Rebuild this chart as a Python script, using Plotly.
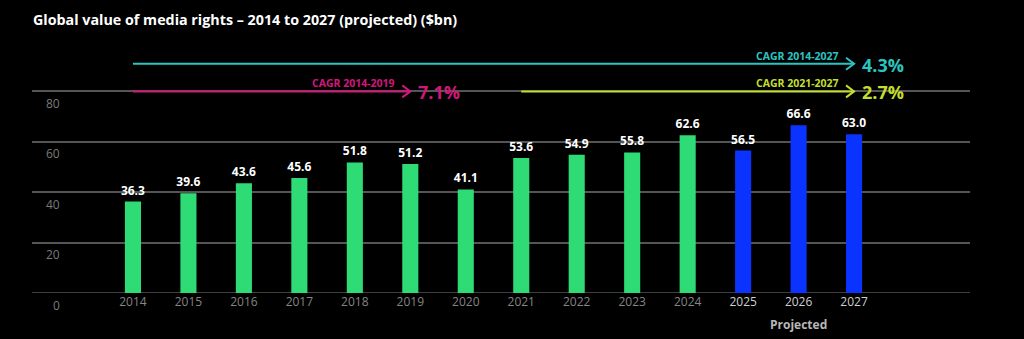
import plotly.graph_objects as go

# Global media rights value, $bn
years = ["2014", "2015", "2016", "2017", "2018", "2019", "2020",
         "2021", "2022", "2023", "2024", "2025", "2026", "2027"]
values = [36.3, 39.6, 43.6, 45.6, 51.8, 51.2, 41.1,
          53.6, 54.9, 55.8, 62.6, 56.5, 66.6, 63.0]
projected = [False] * 11 + [True] * 3

y_ticks = [0, 20, 40, 60, 80]

# CAGR brackets: (start year, end year, level on the value axis, label, rate, colour)
cagr_start = ["2014", "2014", "2021"]
cagr_end = ["2027", "2019", "2027"]
cagr_level = [91, 80, 80]
cagr_label = ["CAGR 2014-2027", "CAGR 2014-2019", "CAGR 2021-2027"]
cagr_rate = ["4.3%", "7.1%", "2.7%"]
cagr_color = ["#2cc4c0", "#d0177a", "#c2df2b"]

GREEN = "#2edb74"
BLUE = "#0a33ff"
GRID = "#555555"
FONT = "Open Sans"

idx = list(range(len(years)))
bar_colors = [BLUE if p else GREEN for p in projected]

fig = go.Figure()
fig.add_trace(go.Bar(
    x=idx, y=values, width=0.29,
    marker=dict(color=bar_colors, line=dict(width=0)),
    text=[f"{v:.1f}" for v in values],
    textposition="outside",
    constraintext="none",
    cliponaxis=False,
    textfont=dict(family=FONT, size=12, color="#ffffff", weight="bold"),
    hoverinfo="skip",
))

tick_text = [
    f"<span style='color:#d0d0d0'>{y}</span>" if p else y
    for y, p in zip(years, projected)
]

annotations = []
# value-axis labels sit just below their gridlines
for t in y_ticks:
    annotations.append(dict(
        x=(62 - 32) / 938, xref="paper", xanchor="right",
        y=t, yref="y", yanchor="middle", yshift=-12,
        text=str(t), showarrow=False,
        font=dict(family=FONT, size=12, color="#7a7a7a"),
    ))

annotations.append(dict(
    x=years.index("2026"), xref="x", y=0, yref="paper",
    yanchor="middle", yshift=-31, text="Projected", showarrow=False,
    font=dict(family=FONT, size=12, color="#b8b8b8", weight="bold"),
))

# baseline gridline at zero
shapes = [dict(
    type="line", xref="paper", yref="y", x0=0, x1=1, y0=0, y1=0,
    line=dict(color=GRID, width=1.5), layer="below",
)]
for s, e, lvl, lab, rate, col in zip(cagr_start, cagr_end, cagr_level,
                                     cagr_label, cagr_rate, cagr_color):
    x0 = years.index(s)
    x1 = years.index(e)
    shapes.append(dict(
        type="line", xref="x", yref="y", x0=x0, x1=x1, y0=lvl, y1=lvl,
        line=dict(color=col, width=2), layer="above",
    ))
    # open chevron at the end of the bracket
    shapes.append(dict(
        type="path", xref="x", yref="y",
        xsizemode="pixel", ysizemode="pixel", xanchor=x1, yanchor=lvl,
        path="M -8 6 L 0 0 L -8 -6",
        line=dict(color=col, width=2), layer="above",
    ))
    annotations.append(dict(
        x=x1, xref="x", xanchor="right", xshift=-13,
        y=lvl, yref="y", yanchor="middle", yshift=8,
        text=lab, showarrow=False,
        font=dict(family=FONT, size=10.5, color=col, weight="bold"),
    ))
    annotations.append(dict(
        x=x1, xref="x", xanchor="left", xshift=6,
        y=lvl, yref="y", yanchor="middle", yshift=-1,
        text=rate, showarrow=False,
        font=dict(family=FONT, size=18, color=col, weight="bold"),
    ))

fig.update_layout(
    width=1024, height=339,
    paper_bgcolor="#000000", plot_bgcolor="#000000",
    margin=dict(l=32, r=54, t=40.5, b=46),
    showlegend=False,
    title=dict(
        text="Global value of media rights – 2014 to 2027 (projected) ($bn)",
        xref="container", yref="container",
        x=33 / 1024, xanchor="left", y=1 - 19.5 / 339, yanchor="middle",
        font=dict(family=FONT, size=14.3, color="#ffffff", weight="bold"),
    ),
    xaxis=dict(
        range=[-1.82, 15.09],
        tickmode="array", tickvals=idx, ticktext=tick_text,
        tickfont=dict(family=FONT, size=12, color="#858585"),
        showgrid=False, zeroline=False, showline=False, ticks="",
        fixedrange=True,
    ),
    yaxis=dict(
        range=[0, 100],
        tickmode="array", tickvals=y_ticks, showticklabels=False,
        showgrid=True, gridcolor=GRID, gridwidth=1.5,
        zeroline=False, showline=False, ticks="",
        fixedrange=True,
    ),
    shapes=shapes,
    annotations=annotations,
)

fig.write_html("out.html")
